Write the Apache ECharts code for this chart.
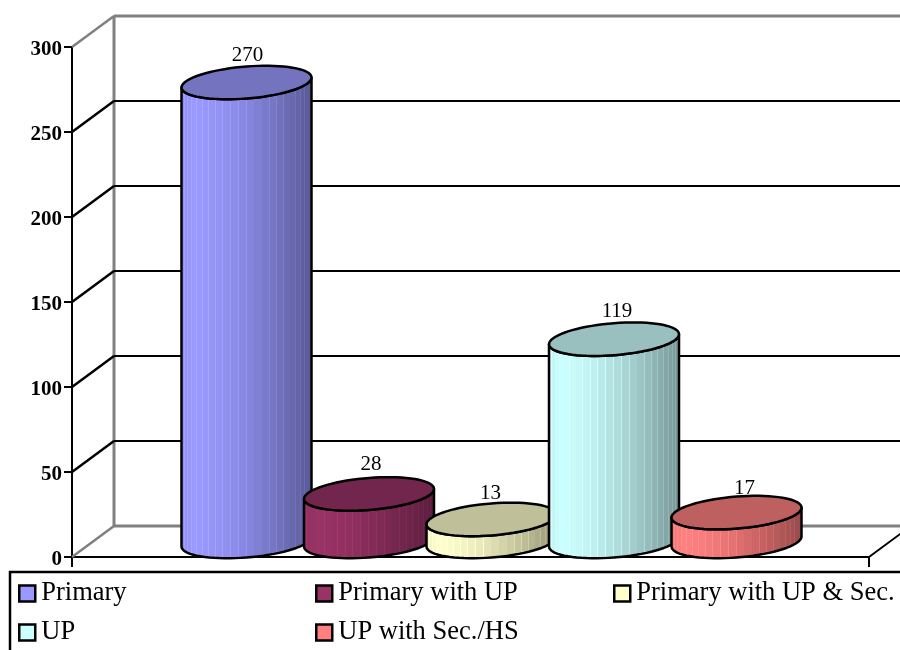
<!DOCTYPE html>
<html>
<head>
<meta charset="utf-8">
<style>html,body{margin:0;padding:0;background:#fff}#c{width:900px;height:650px}</style>
<script src="https://cdn.jsdelivr.net/npm/echarts@6/dist/echarts.min.js"></script>
</head>
<body>
<div id="c"></div>
<script>
const categories = ['Schools'];
const seriesNames = ['Primary', 'Primary with UP', 'Primary with UP & Sec.', 'UP', 'UP with Sec./HS'];
const seriesValues = [270, 28, 13, 119, 17];
const yTicks = [0, 50, 100, 150, 200, 250, 300];

const baseColors = ['#9999FF', '#993366', '#FFFFCC', '#CCFFFF', '#FF8080'];
const legendSpots = [[18, 580], [315, 580], [613, 580], [18, 619], [315, 619]];
const labelNudge = [[1, 0], [2, -2], [-1, 1], [3, -1], [8, 3]];

const FONT = '"Liberation Serif", serif';
const DEPTH_X = 42, DEPTH_Y = -31;
const RX = 65, TILT = 5, RY = 16;
const STEP = 122.5;

function shade(hex, k) {
  const n = parseInt(hex.slice(1), 16);
  const f = v => Math.max(0, Math.min(255, Math.round(v * k)));
  return 'rgb(' + f(n >> 16) + ',' + f((n >> 8) & 255) + ',' + f(n & 255) + ')';
}
function brightness(t) {
  if (t < 0.1) return 0.94 + 0.6 * t;
  return 1 - 0.42 * Math.pow((t - 0.1) / 0.9, 1.5);
}
function slats(hex) {
  const n = 26, stops = [];
  for (let i = 0; i < n; i++) {
    const a = (1 - Math.cos(Math.PI * i / n)) / 2;
    const b = (1 - Math.cos(Math.PI * (i + 1) / n)) / 2;
    const k = brightness((a + b) / 2);
    const c = shade(hex, k), lite = shade(hex, k * 1.1);
    const e = Math.max(a, b - 0.006);
    stops.push({offset: a, color: c}, {offset: e, color: c}, {offset: e, color: lite}, {offset: b, color: lite});
  }
  return {type: 'linear', x: 0, y: 0, x2: 1, y2: 0, colorStops: stops};
}
function ringPoint(cx, cy, t) {
  return [cx + RX * Math.cos(t), cy - TILT * Math.cos(t) - RY * Math.sin(t)];
}

function cylinderItem(index) {
  return function (params, api) {
    const top = api.coord([api.value(0), api.value(1)]);
    const base = api.coord([api.value(0), 0]);
    const cx = top[0] + (index - 2) * STEP + DEPTH_X / 2;
    const cyTop = top[1] + DEPTH_Y / 2;
    const cyBase = base[1] + DEPTH_Y / 2;
    const ring = [], side = [];
    const steps = 72;
    for (let i = 0; i < steps; i++) ring.push(ringPoint(cx, cyTop, 2 * Math.PI * i / steps));
    for (let i = 0; i <= steps / 2; i++) side.push(ringPoint(cx, cyTop, Math.PI + Math.PI * i / (steps / 2)));
    for (let i = 0; i <= steps / 2; i++) side.push(ringPoint(cx, cyBase, 2 * Math.PI - Math.PI * i / (steps / 2)));
    const hex = baseColors[index];
    const nudge = labelNudge[index];
    return {
      type: 'group',
      children: [
        {type: 'polygon', shape: {points: side},
          style: {fill: slats(hex), stroke: '#000', lineWidth: 2.5, lineJoin: 'round'}},
        {type: 'polygon', shape: {points: ring},
          style: {fill: shade(hex, 0.75), stroke: '#000', lineWidth: 2.5}},
        {type: 'text', style: {
          text: String(api.value(1)),
          x: cx + nudge[0], y: cyTop - 27 + nudge[1],
          textAlign: 'center', textVerticalAlign: 'middle',
          font: '21px ' + FONT, fill: '#000'}}
      ]
    };
  };
}

function wallItem(params, api) {
  const v = api.value(0);
  const rect = params.coordSys;
  const y = api.coord([0, v])[1];
  const x0 = rect.x, x1 = rect.x + rect.width;
  const edge = v === 0 || v === 300;
  const stroke = edge ? '#808080' : '#000';
  const w = edge ? 3 : 2;
  const kids = [
    {type: 'line', shape: {x1: x0, y1: y, x2: x0 + DEPTH_X, y2: y + DEPTH_Y}, style: {stroke: stroke, lineWidth: 2.5}},
    {type: 'line', shape: {x1: x0 + DEPTH_X, y1: y + DEPTH_Y, x2: x1 + DEPTH_X, y2: y + DEPTH_Y}, style: {stroke: stroke, lineWidth: w}}
  ];
  if (v === 0) {
    kids.push({type: 'line', shape: {x1: x0 + DEPTH_X, y1: y + DEPTH_Y, x2: x0 + DEPTH_X, y2: rect.y + DEPTH_Y}, style: {stroke: '#808080', lineWidth: 3}});
    kids.push({type: 'line', shape: {x1: x1, y1: y, x2: x1 + DEPTH_X, y2: y + DEPTH_Y}, style: {stroke: '#000', lineWidth: 2}});
  }
  return {type: 'group', children: kids};
}

const series = [{
  type: 'custom', name: 'walls', silent: true, z: 1,
  coordinateSystem: 'cartesian2d',
  data: yTicks.map(v => [v]),
  encode: {y: 0},
  renderItem: wallItem
}].concat(seriesNames.map((name, i) => ({
  type: 'custom', name: name, z: 2 + i,
  coordinateSystem: 'cartesian2d',
  itemStyle: {color: baseColors[i]},
  data: [[0, seriesValues[i]]],
  encode: {x: 0, y: 1},
  renderItem: cylinderItem(i)
})));

const legends = seriesNames.map((name, i) => ({
  left: legendSpots[i][0], top: legendSpots[i][1],
  orient: 'horizontal', padding: 0,
  itemWidth: 16, itemHeight: 16, itemGap: 0,
  selectedMode: false,
  textStyle: {fontFamily: FONT, fontSize: 26.5, color: '#000', padding: [3, 0, 0, 1]},
  data: [{name: name, icon: 'rect', itemStyle: {color: baseColors[i], borderColor: '#000', borderWidth: 2.5}}]
}));

const chart = echarts.init(document.getElementById('c'), null, {renderer: 'canvas'});
chart.setOption({
  animation: false,
  backgroundColor: '#fff',
  grid: {left: 72, top: 47, width: 797, height: 510, containLabel: false},
  xAxis: {
    type: 'category', data: categories,
    axisLine: {lineStyle: {color: '#000', width: 2}},
    axisTick: {show: true, length: 10, alignWithLabel: false, lineStyle: {color: '#000', width: 2}},
    axisLabel: {show: false}, splitLine: {show: false}
  },
  yAxis: {
    type: 'value', min: 0, max: 300, interval: 50,
    axisLine: {show: true, lineStyle: {color: '#000', width: 2}},
    axisTick: {show: true, length: 8, lineStyle: {color: '#000', width: 2}},
    axisLabel: {
      margin: 10, formatter: '{n|{value}}',
      rich: {n: {fontFamily: FONT, fontSize: 21, fontWeight: 'bold', color: '#000', padding: [5, 0, 0, 0]}}
    },
    splitLine: {show: false}
  },
  legend: legends,
  graphic: [{type: 'rect', silent: true, shape: {x: 10, y: 572, width: 1000, height: 200},
    style: {fill: 'none', stroke: '#000', lineWidth: 2.5}}],
  series: series
});
</script>
</body>
</html>
